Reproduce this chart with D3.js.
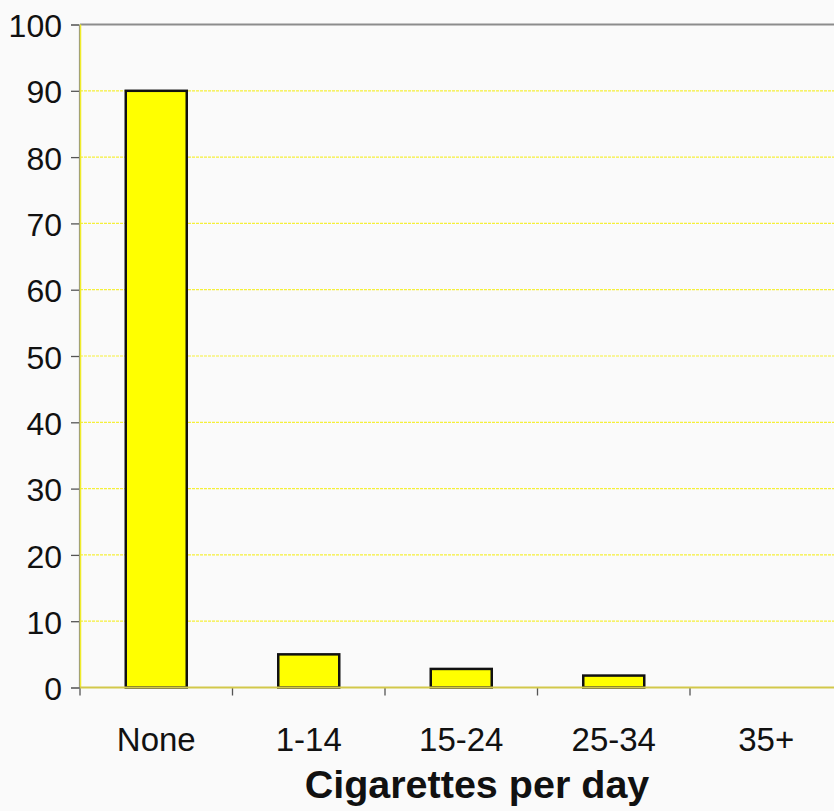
<!DOCTYPE html>
<html>
<head>
<meta charset="utf-8">
<script src="https://cdn.jsdelivr.net/npm/d3@7"></script>
<style>
  html, body { margin: 0; padding: 0; background: #fafafa; }
  svg { display: block; }
  text { font-family: "Liberation Sans", Arial, sans-serif; fill: #111; }
</style>
</head>
<body>
<svg id="chart" width="834" height="811"></svg>
<script>
// Share of respondents by daily cigarette consumption
const categories = ["None", "1-14", "15-24", "25-34", "35+"];
const values = [90, 5, 2.8, 1.8, 0];
const yTicks = [0, 10, 20, 30, 40, 50, 60, 70, 80, 90, 100];
const xTitle = "Cigarettes per day";

const svg = d3.select("#chart");
const plotLeft = 80, plotTop = 24.5, plotBottom = 687.5;
const bandW = 152.5;
const plotRight = plotLeft + bandW * categories.length;

const x = d3.scaleBand().domain(categories).range([plotLeft, plotRight]).paddingInner(0).paddingOuter(0);
const y = d3.scaleLinear().domain([0, 100]).range([plotBottom, plotTop]);

// horizontal gridlines
svg.append("g").selectAll("line")
  .data(yTicks.filter(t => t > 0 && t < 100))
  .join("line")
  .attr("x1", plotLeft).attr("x2", 834)
  .attr("y1", d => y(d)).attr("y2", d => y(d))
  .attr("stroke", "#f5f03a").attr("stroke-width", 1.2)
  .attr("stroke-dasharray", "3,1");

// top border
svg.append("line")
  .attr("x1", plotLeft).attr("x2", 834)
  .attr("y1", y(100)).attr("y2", y(100))
  .attr("stroke", "#8c8c8c").attr("stroke-width", 2);

// y axis
const yAxis = d3.axisLeft(y).tickValues(yTicks).tickSize(8).tickPadding(9).tickFormat(d3.format("d"));
const gy = svg.append("g").attr("transform", `translate(${plotLeft - 1},0)`).call(yAxis);
gy.select(".domain").attr("stroke", "#8a8a8a").attr("stroke-width", 1.2);
gy.selectAll(".tick line").attr("stroke", "#555").attr("stroke-width", 1.3);
gy.selectAll(".tick text")
  .attr("font-size", 32).attr("dy", "0.38em")
  .style("font-family", "'Liberation Sans', Arial, sans-serif").attr("fill", "#111");
svg.append("line")
  .attr("x1", plotLeft + 0.5).attr("x2", plotLeft + 0.5)
  .attr("y1", y(100)).attr("y2", plotBottom)
  .attr("stroke", "#f0ec2a").attr("stroke-width", 1.5);

// bars
svg.append("g").selectAll("rect")
  .data(categories.map((c, i) => ({ c, v: values[i] })).filter(d => d.v > 0))
  .join("rect")
  .attr("x", d => x(d.c) + x.bandwidth() * 0.3)
  .attr("width", x.bandwidth() * 0.4)
  .attr("y", d => y(d.v))
  .attr("height", d => y(0) - y(d.v))
  .attr("fill", "#ffff00")
  .attr("stroke", "#111").attr("stroke-width", 2.5);

// x axis: ticks on category boundaries
const gx = svg.append("g").attr("transform", `translate(0,${plotBottom})`);
gx.selectAll("line.tk")
  .data(categories.map(c => x(c)).concat([plotRight]))
  .join("line").attr("class", "tk")
  .attr("x1", d => d).attr("x2", d => d)
  .attr("y1", 0).attr("y2", 8)
  .attr("stroke", "#555").attr("stroke-width", 1.3);
gx.append("line")
  .attr("x1", plotLeft).attr("x2", 834).attr("y1", 0).attr("y2", 0)
  .attr("stroke", "#d2c84a").attr("stroke-width", 2.2);
gx.selectAll("text")
  .data(categories)
  .join("text")
  .attr("x", d => x(d) + x.bandwidth() / 2)
  .attr("y", 63.5)
  .attr("text-anchor", "middle")
  .attr("font-size", 33)
  .text(d => d);

// axis title
svg.append("text")
  .attr("x", 477).attr("y", 798)
  .attr("text-anchor", "middle")
  .attr("font-size", 39.5).attr("font-weight", "bold")
  .text(xTitle);
</script>
</body>
</html>
